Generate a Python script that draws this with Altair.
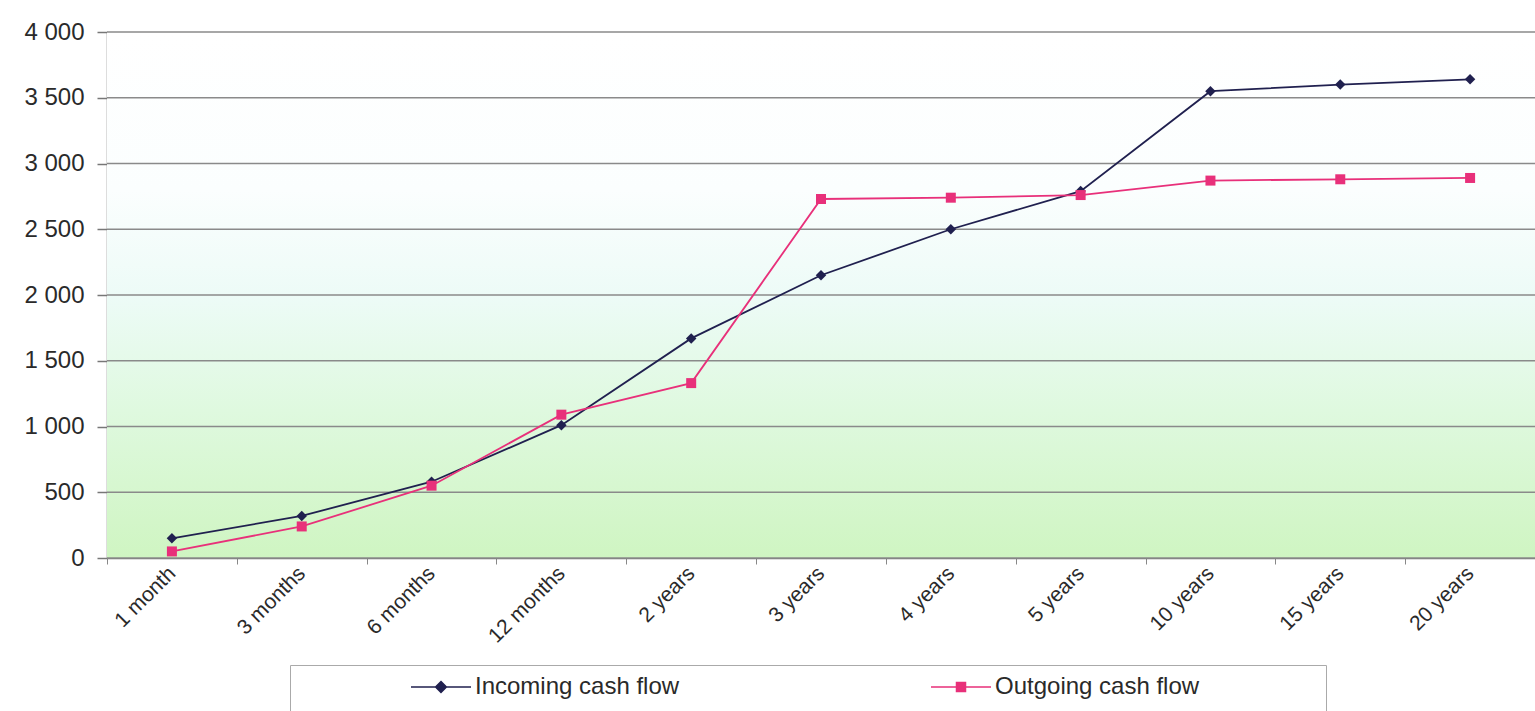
import altair as alt
import pandas as pd

periods = ["1 month", "3 months", "6 months", "12 months", "2 years", "3 years",
           "4 years", "5 years", "10 years", "15 years", "20 years"]
incoming = [150, 320, 580, 1010, 1670, 2150, 2500, 2790, 3550, 3600, 3640]
outgoing = [50, 240, 550, 1090, 1330, 2730, 2740, 2760, 2870, 2880, 2890]
series_names = ["Incoming cash flow", "Outgoing cash flow"]
series_colors = ["#20204f", "#e8307a"]
y_ticks = [0, 500, 1000, 1500, 2000, 2500, 3000, 3500, 4000]

df_in = pd.DataFrame({"period": periods, "series": series_names[0], "value": incoming})
df_out = pd.DataFrame({"period": periods, "series": series_names[1], "value": outgoing})
df_grid = pd.DataFrame({"value": y_ticks})

FONT = "Liberation Sans"
PAD_SPACES = "\u00a0" * 96 + "\u200b"

x_enc = alt.X(
    "period:N",
    sort=periods,
    scale=alt.Scale(type="band", paddingInner=0, paddingOuter=0),
    axis=alt.Axis(
        title=None,
        labelAngle=-45,
        labelAlign="right",
        labelBaseline="middle",
        labelFont=FONT,
        labelFontSize=21,
        labelColor="#2a2a2a",
        labelPadding=6,
        tickBand="extent",
        tickSize=6,
        tickColor="#888888",
        domainColor="#777777",
        domainWidth=1.5,
        grid=False,
    ),
)
y_scale = alt.Scale(domain=[0, 4000], nice=False)
y_enc = alt.Y(
    "value:Q",
    scale=y_scale,
    axis=alt.Axis(
        title=None,
        values=y_ticks,
        labelExpr="replace(format(datum.value, ','), ',', ' ')",
        labelFont=FONT,
        labelFontSize=24,
        labelColor="#2a2a2a",
        labelPadding=13,
        tickSize=10,
        tickColor="#777777",
        tickWidth=1.5,
        domainColor="#777777",
        domainWidth=1.5,
        grid=False,
    ),
)


def series_layer(df, idx, marker, msize, sym_path, legend_x, sym_offset, label_expr):
    legend_kwargs = dict(
        title=None,
        orient="none",
        legendX=legend_x,
        legendY=633,
        symbolType=sym_path,
        symbolSize=900,
        symbolFillColor=series_colors[idx],
        symbolStrokeColor=series_colors[idx],
        symbolStrokeWidth=1.5,
        symbolOpacity=1,
        symbolOffset=sym_offset,
        labelFont=FONT,
        labelFontSize=24,
        labelColor="#2a2a2a",
        labelOffset=18,
        labelLimit=1400,
        padding=6,
        zindex=idx + 1,
    )
    if label_expr:
        legend_kwargs.update(
            fillColor="#ffffff", strokeColor="#aaaaaa", labelExpr=label_expr,
            title="\u200b", titleOrient="bottom", titlePadding=12, titleFontSize=20,
        )
    legend = alt.Legend(**legend_kwargs)
    color = alt.Color("series:N", scale=alt.Scale(domain=[series_names[idx]], range=[series_colors[idx]]),
                      legend=legend)
    base = alt.Chart(df)
    line = base.mark_line(strokeWidth=1.8).encode(x=x_enc, y=y_enc, color=color)
    pts = base.mark_point(filled=True, size=msize, opacity=1, shape=marker).encode(x=x_enc, y=y_enc, color=color)
    return alt.layer(line, pts)


inc_layer = series_layer(df_in, 0, "diamond", 110, "M-2,0H2M0,-0.36L0.36,0L0,0.36L-0.36,0Z", 183, 129,
                         "datum.label + '" + PAD_SPACES + "'")
out_layer = series_layer(df_out, 1, "square", 100, "M-2,0H2M-0.3,-0.3H0.3V0.3H-0.3Z", 832, 0, None)

gradient = alt.LinearGradient(
    gradient="linear", x1=0, y1=0, x2=0, y2=1,
    stops=[
        alt.GradientStop(offset=0, color="#ffffff"),
        alt.GradientStop(offset=0.3, color="#fbfefe"),
        alt.GradientStop(offset=0.5, color="#edfbf7"),
        alt.GradientStop(offset=0.72, color="#dff9df"),
        alt.GradientStop(offset=1, color="#cff5c2"),
    ],
)

bg = alt.Chart(pd.DataFrame({"bg": [0]})).mark_rect(
    x=0, x2="width", y=0, y2="height", fill=gradient
).encode(opacity=alt.value(1))

grid = alt.Chart(df_grid).mark_rule(color="#8a8a8a", strokeWidth=1.5).encode(y=y_enc)

chart = (
    alt.layer(bg, grid, inc_layer, out_layer)
    .resolve_scale(color="independent")
    .resolve_legend(color="independent")
    .properties(
        width=1428,
        height=526,
        autosize=alt.AutoSizeParams(type="none"),
        padding={"left": 107, "top": 32, "right": 0, "bottom": 153},
        background="#ffffff",
    )
    .configure_view(stroke=None)
)

chart.save("out.html", embed_options={"renderer": "svg", "actions": False})
